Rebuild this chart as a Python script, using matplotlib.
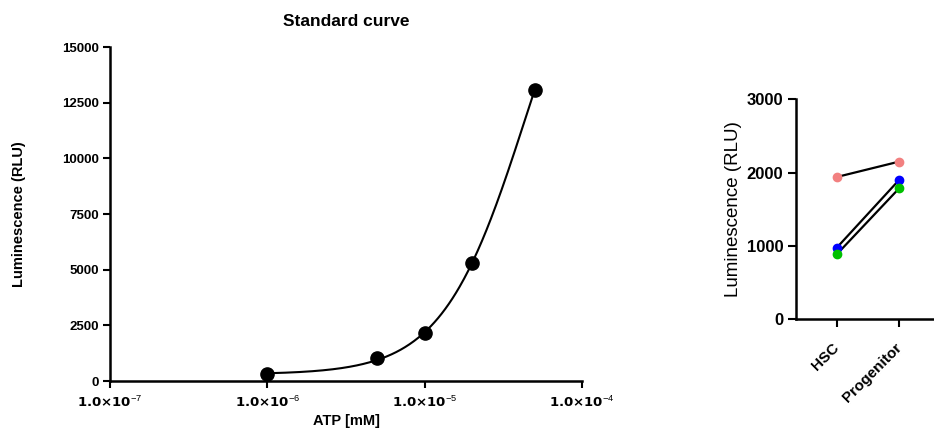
"""
Standard curve of ATP luminescence and paired HSC / Progenitor readings.
"""

import numpy as np
import matplotlib
matplotlib.use("Agg")
import matplotlib.pyplot as plt
from matplotlib.ticker import FixedLocator


OUTPUT_FIGURE = "out.png"

# standard curve points
atp_mm = [1e-6, 5e-6, 1e-5, 2e-5, 5e-5]
luminescence = [315, 1020, 2140, 5320, 13070]

# paired samples (HSC, Progenitor)
groups = ["HSC", "Progenitor"]
sample_colors = ["#F28080", "#0000FF", "#00C000"]
sample_values = [
    [1940, 2150],
    [975, 1900],
    [885, 1785],
]

x_decades = [-7, -6, -5, -4]
left_yticks = [0, 2500, 5000, 7500, 10000, 12500, 15000]
right_yticks = [0, 1000, 2000, 3000]


def fit_4pl(x, y):
    """Grid search on logEC50 / hill, linear least squares for bottom and top."""
    logx = np.log10(np.asarray(x))
    y = np.asarray(y, dtype=float)
    best = None
    for log_ec50 in np.linspace(-5.5, -3.5, 401):
        for hill in np.linspace(0.5, 4.0, 351):
            f = 1.0 / (1.0 + 10 ** ((log_ec50 - logx) * hill))
            A = np.column_stack([1 - f, f])
            coef, *_ = np.linalg.lstsq(A, y, rcond=None)
            sse = np.sum((A @ coef - y) ** 2)
            if best is None or sse < best[0]:
                best = (sse, coef[0], coef[1], log_ec50, hill)
    return best[1:]


def main():
    plt.rcParams["font.family"] = ["Liberation Sans", "DejaVu Sans"]
    plt.rcParams["mathtext.fontset"] = "custom"
    plt.rcParams["mathtext.rm"] = "Liberation Sans"
    plt.rcParams["mathtext.default"] = "rm"

    fig = plt.figure(figsize=(9.34, 4.34), dpi=100)

    # ---- left: standard curve ----
    ax = fig.add_axes([0.1178, 0.1221, 0.5054, 0.7696])

    bottom, top, log_ec50, hill = fit_4pl(atp_mm, luminescence)
    xs = np.logspace(np.log10(atp_mm[0]), np.log10(atp_mm[-1]), 300)
    ys = bottom + (top - bottom) / (1 + 10 ** ((log_ec50 - np.log10(xs)) * hill))
    ax.plot(xs, ys, color="black", lw=1.5, zorder=2)
    ax.plot(atp_mm, luminescence, "o", color="black", ms=9.5, zorder=3,
            clip_on=False)

    ax.set_xscale("log")
    ax.set_xlim(1e-7, 1e-4)
    ax.set_ylim(0, 15000)
    ax.xaxis.set_major_locator(FixedLocator([10.0 ** d for d in x_decades]))
    ax.xaxis.set_minor_locator(FixedLocator([]))
    ax.set_xticklabels([r"$\mathbf{1.0{\times}10}^{%d}$" % d for d in x_decades],
                       fontsize=9.5)
    ax.set_yticks(left_yticks)
    ax.set_yticklabels([str(v) for v in left_yticks], fontsize=9.5,
                       fontweight="bold")

    for side in ["top", "right"]:
        ax.spines[side].set_visible(False)
    for side in ["left", "bottom"]:
        ax.spines[side].set_linewidth(1.8)
    ax.tick_params(axis="both", which="major", length=5, width=1.5,
                   direction="out", pad=3)
    ax.tick_params(axis="x", pad=5)

    ax.set_xlabel("ATP [mM]", fontsize=10.5, fontweight="bold", labelpad=3)
    ax.set_ylabel("Luminescence (RLU)", fontsize=10.5, fontweight="bold")
    ax.yaxis.set_label_coords(-0.178, 0.5)
    ax.set_title("Standard curve", fontsize=12.5, fontweight="bold", pad=15)

    # ---- right: paired samples ----
    ax2 = fig.add_axes([0.852, 0.265, 0.148, 0.506])
    xpos = np.arange(len(groups))
    for color, vals in zip(sample_colors, sample_values):
        ax2.plot(xpos, vals, color="black", lw=1.6, zorder=2)
        ax2.plot(xpos, vals, "o", color=color, ms=6, zorder=3)

    ax2.set_xlim(-0.66, 1.56)
    ax2.set_ylim(0, 3000)
    ax2.set_xticks(xpos)
    ax2.set_xticklabels(groups, fontsize=11, fontweight="bold", rotation=45,
                        ha="right", va="center", rotation_mode="anchor")
    ax2.set_yticks(right_yticks)
    ax2.set_yticklabels([str(v) for v in right_yticks], fontsize=12,
                        fontweight="bold")
    for side in ["top", "right"]:
        ax2.spines[side].set_visible(False)
    for side in ["left", "bottom"]:
        ax2.spines[side].set_linewidth(1.8)
    ax2.tick_params(axis="both", length=6, width=1.5, direction="out", pad=3)
    ax2.tick_params(axis="x", pad=13)
    ax2.set_ylabel("Luminescence (RLU)", fontsize=13.5)
    ax2.yaxis.set_label_coords(-0.388, 0.5)

    fig.savefig(OUTPUT_FIGURE, dpi=100)
    plt.close(fig)

    print("Fit:", bottom, top, log_ec50, hill)


if __name__ == "__main__":
    main()
